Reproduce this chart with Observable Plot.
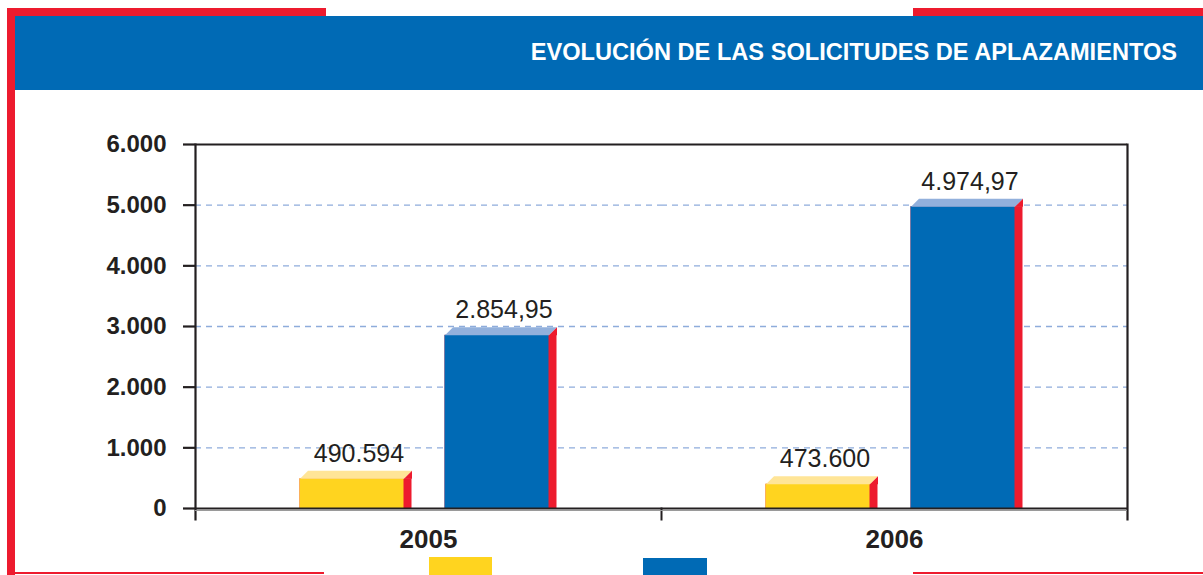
<!DOCTYPE html>
<html><head><meta charset="utf-8">
<script src="https://cdn.jsdelivr.net/npm/d3@7"></script>
<script src="https://cdn.jsdelivr.net/npm/@observablehq/plot@0.6"></script>
<style>
body{margin:0;background:#fff;}
#wrap{position:relative;width:1203px;height:575px;overflow:hidden;font-family:"Liberation Sans",Arial,sans-serif;background:#fff;}
.abs{position:absolute;}
#title{right:26px;top:41px;font-size:23.6px;line-height:23.6px;font-weight:bold;color:#fff;white-space:nowrap;}
#chart{left:0;top:0;}
</style></head><body>
<div id="wrap">
  <div class="abs" style="left:7px;top:8px;width:8px;height:567px;background:#ED1B2E"></div>
  <div class="abs" style="left:7px;top:8px;width:319px;height:8px;background:#ED1B2E"></div>
  <div class="abs" style="left:913px;top:8px;width:290px;height:8px;background:#ED1B2E"></div>
  <div class="abs" style="left:15px;top:16px;width:1188px;height:74px;background:#006AB5"></div>
  <div class="abs" id="title">EVOLUCIÓN DE LAS SOLICITUDES DE APLAZAMIENTOS</div>
  <div class="abs" style="left:15px;top:572px;width:309px;height:2px;background:#ED1B2E"></div>
  <div class="abs" style="left:913px;top:572px;width:290px;height:2px;background:#ED1B2E"></div>
  <div class="abs" id="chart"></div>
  <div class="abs" style="left:429px;top:557px;width:63px;height:18px;background:#FFD41F"></div>
  <div class="abs" style="left:643px;top:558px;width:64px;height:17px;background:#006AB5"></div>
</div>
<script>
// ---- data ----
const years = ["2005", "2006"];
const seriesKeys = ["solicitudes", "importe"];
const solicitudesValues = [490, 400];           // bar heights as drawn on the 0–6.000 axis
const solicitudesLabels = ["490.594", "473.600"];
const importeValues = [2854.95, 4974.97];
const importeLabels = ["2.854,95", "4.974,97"];
const yTicks = [0, 1000, 2000, 3000, 4000, 5000, 6000];
const gridTicks = [1000, 2000, 3000, 4000, 5000];

// ---- styles ----
const RED = "#ED1B2E";
const frontColor = {solicitudes: "#FFD41F", importe: "#006AB5"};
const topColor = {solicitudes: "#FFE597", importe: "#92B0DC"};
const INK = "#231F20";
const FONT = "Liberation Sans, Arial, sans-serif";
const BW = 112, DEPTH = 8;

const rows = years.flatMap((yr, i) => [
  {year: yr, series: seriesKeys[0], value: solicitudesValues[i], label: solicitudesLabels[i]},
  {year: yr, series: seriesKeys[1], value: importeValues[i], label: importeLabels[i]}
]);

const h = BW / 2;
const topFace = {draw(ctx) {
  ctx.moveTo(-h, 0); ctx.lineTo(-h + DEPTH, -DEPTH); ctx.lineTo(h, -DEPTH); ctx.lineTo(h - DEPTH, 0); ctx.closePath();
}};
const sideTip = {draw(ctx) {
  ctx.moveTo(h - DEPTH, 0); ctx.lineTo(h, -DEPTH); ctx.lineTo(h, 0); ctx.closePath();
}};

const fmt = d => d3.format(",")(d).replace(/,/g, ".");
const common = {fx: "year", x: "series", y: "value"};

const chart = Plot.plot({
  width: 1203,
  height: 575,
  marginLeft: 195,
  marginRight: 76,
  marginTop: 144,
  marginBottom: 67,
  style: {background: "transparent", fontFamily: FONT, overflow: "visible"},
  fx: {domain: years, padding: 0, label: null},
  x: {domain: seriesKeys, paddingInner: 0.2276, paddingOuter: 0.7207, round: false, axis: null},
  y: {domain: [0, 6000]},
  color: {type: "identity"},
  marks: [
    Plot.gridY(gridTicks, {stroke: "#8EACDB", strokeOpacity: 1, strokeWidth: 1.4, strokeDasharray: "6,5"}),
    Plot.ruleY([6000], {stroke: INK, strokeWidth: 1.8}),
    Plot.frame({anchor: "left", facetAnchor: "left", insetBottom: -11, stroke: INK, strokeWidth: 2.2}),
    Plot.frame({anchor: "right", facetAnchor: "right", insetBottom: -11, stroke: INK, strokeWidth: 2.2}),
    Plot.frame({anchor: "left", facetAnchor: "right", insetTop: 364, insetBottom: -11, stroke: INK, strokeWidth: 2}),
    Plot.barY(rows, {...common, fill: RED}),
    Plot.barY(rows, {...common, fill: d => frontColor[d.series], insetRight: DEPTH}),
    Plot.dot(rows, {...common, symbol: topFace, fill: d => topColor[d.series], stroke: "none"}),
    Plot.dot(rows, {...common, symbol: sideTip, fill: RED, stroke: "none"}),
    Plot.ruleY([0], {stroke: "#9a9a9a", strokeWidth: 1.2, dy: 2}),
    Plot.ruleY([0], {stroke: INK, strokeWidth: 2.2}),
    Plot.text(rows, {...common, text: "label", dy: -17, dx: 3, lineAnchor: "bottom", fontSize: 25, fill: INK}),
    Plot.axisY({ticks: yTicks, tickFormat: fmt, tickSize: 12, tickPadding: 17, fontSize: 24, fontWeight: "bold", color: INK, strokeWidth: 2.2, label: null}),
    Plot.axisFx({anchor: "bottom", tickSize: 0, tickPadding: 21, fontSize: 26, fontWeight: "bold", color: INK, label: null})
  ]
});
document.getElementById("chart").appendChild(chart);
</script>
</body></html>
